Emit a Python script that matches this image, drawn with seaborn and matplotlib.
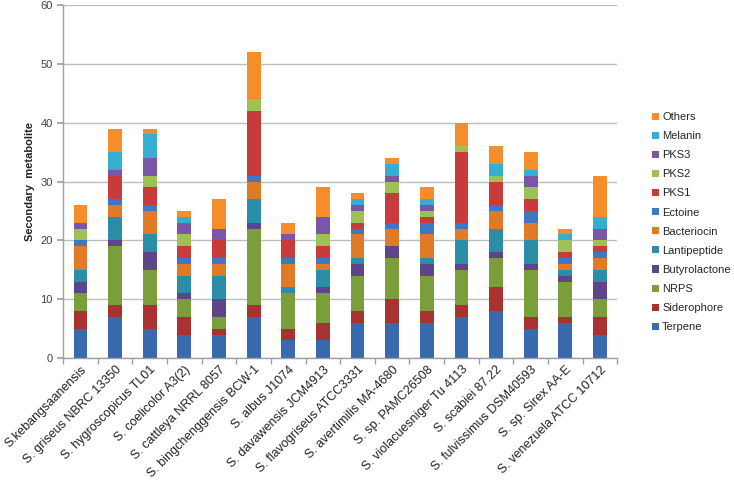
import matplotlib
matplotlib.use("Agg")
import matplotlib.pyplot as plt
import numpy as np
import seaborn as sns

strains = [
    "S.kebangsaanensis", "S. griseus NBRC 13350", "S. hygroscopicus TL01",
    "S. coelicolor A3(2)", "S. cattleya NRRL 8057", "S. bingchenggensis BCW-1",
    "S. albus J1074", "S. davawensis JCM4913", "S. flavogriseus ATCC3331",
    "S. avertimilis MA-4680", "S. sp. PAMC26508", "S. violacuesniger Tu 4113",
    "S. scabiei 87.22", "S. fulvissimus DSM40593", "S. sp. Sirex AA-E",
    "S. venezuela ATCC 10712",
]

# counts per cluster type, bottom of the stack first
terpene       = [5, 7, 5, 4, 4, 7, 3, 3, 6, 6, 6, 7, 8, 5, 6, 4]
siderophore   = [3, 2, 4, 3, 1, 2, 2, 3, 2, 4, 2, 2, 4, 2, 1, 3]
nrps          = [3, 10, 6, 3, 2, 13, 6, 5, 6, 7, 6, 6, 5, 8, 6, 3]
butyrolactone = [2, 1, 3, 1, 3, 1, 0, 1, 2, 2, 2, 1, 1, 1, 1, 3]
lantipeptide  = [2, 4, 3, 3, 4, 4, 1, 3, 1, 0, 1, 4, 4, 4, 1, 2]
bacteriocin   = [4, 2, 4, 2, 2, 3, 4, 1, 4, 3, 4, 2, 3, 3, 1, 2]
ectoine       = [1, 1, 1, 1, 1, 1, 1, 1, 1, 1, 2, 1, 1, 2, 1, 1]
pks1          = [0, 4, 3, 2, 3, 11, 3, 2, 1, 5, 1, 12, 4, 2, 1, 1]
pks2          = [2, 0, 2, 2, 0, 2, 0, 2, 2, 2, 1, 1, 1, 2, 2, 1]
pks3          = [1, 1, 3, 2, 2, 0, 1, 3, 1, 1, 1, 0, 0, 2, 0, 2]
melanin       = [0, 3, 4, 1, 0, 0, 0, 0, 1, 2, 1, 0, 2, 1, 1, 2]
others        = [3, 4, 1, 1, 5, 8, 2, 5, 1, 1, 2, 4, 3, 3, 1, 7]

series = [
    ("Terpene", terpene, "#3A6AAE"),
    ("Siderophore", siderophore, "#A83230"),
    ("NRPS", nrps, "#7A9E3A"),
    ("Butyrolactone", butyrolactone, "#5E4488"),
    ("Lantipeptide", lantipeptide, "#2A8EA8"),
    ("Bacteriocin", bacteriocin, "#E07A26"),
    ("Ectoine", ectoine, "#3D77C6"),
    ("PKS1", pks1, "#C93A3A"),
    ("PKS2", pks2, "#9CC255"),
    ("PKS3", pks3, "#7A56A6"),
    ("Melanin", melanin, "#36AED2"),
    ("Others", others, "#F58E2A"),
]

sns.set_theme(style="white")
plt.rcParams["font.family"] = ["Liberation Sans", "DejaVu Sans"]

fig = plt.figure(figsize=(7.34, 4.84), dpi=100)
ax = fig.add_axes([0.086, 0.26, 0.755, 0.73])

bottom = np.zeros(len(strains))
for name, vals, color in series:
    sns.barplot(x=strains, y=vals, bottom=bottom, color=color, width=0.4,
                errorbar=None, ax=ax, label=name, linewidth=0, saturation=1)
    bottom = bottom + np.array(vals)

ax.set_xlim(-0.5, len(strains) - 0.5)
ax.set_ylim(0, 60)
ax.set_yticks(range(0, 61, 10))
ax.yaxis.grid(True, color="#BDBDBD", linewidth=1)
ax.set_axisbelow(True)
for side in ["top", "right"]:
    ax.spines[side].set_visible(False)
for side in ["left", "bottom"]:
    ax.spines[side].set_color("#A0A0A0")
    ax.spines[side].set_linewidth(1)

ax.set_ylabel("Secondary  metabolite", fontsize=8, fontweight="bold", color="#222222")
ax.set_xlabel("")
ax.tick_params(axis="y", labelsize=8, colors="#404040", length=4, color="#A0A0A0",
               direction="out", left=True)
ax.tick_params(axis="x", which="major", length=0, pad=4)
ax.set_xticks(np.arange(-0.5, len(strains), 1), minor=True)
ax.tick_params(axis="x", which="minor", length=4, color="#A0A0A0", direction="out", bottom=True)
ax.set_xticks(range(len(strains)))
ax.set_xticklabels(strains, rotation=45, ha="right", rotation_mode="anchor",
                   fontsize=9, color="#222222")

h, l = ax.get_legend_handles_labels()
ax.legend(h[::-1], l[::-1], loc="center left", bbox_to_anchor=(1.045, 0.385),
          frameon=False, fontsize=8, handlelength=0.6, handleheight=0.6,
          handletextpad=0.3, labelspacing=0.82)

fig.savefig("out.png", dpi=100)
